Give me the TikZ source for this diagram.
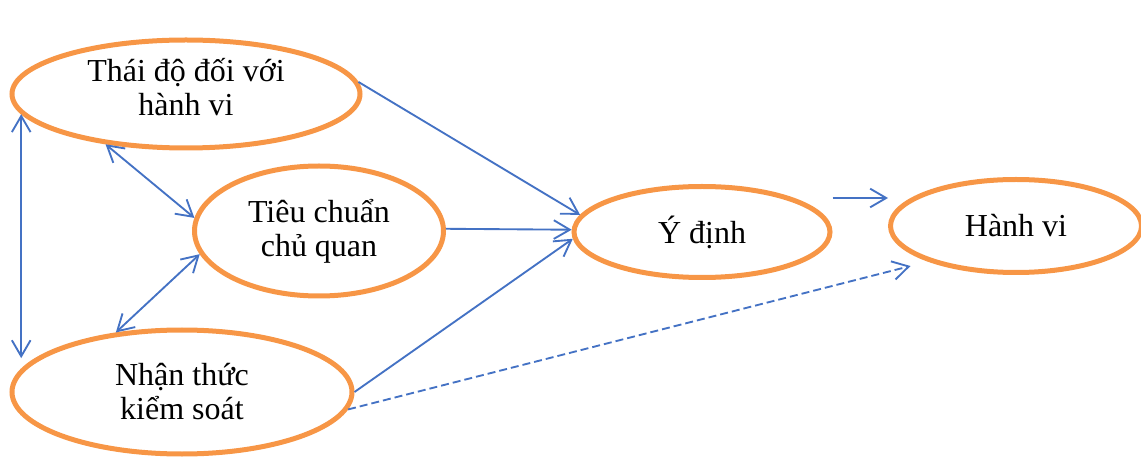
\documentclass[tikz,border=0pt]{standalone}
\usepackage{fontspec}
\setmainfont{Liberation Serif}
\usepackage{xcolor}
\usepackage{tikz}
\usetikzlibrary{arrows.meta,shapes.geometric}
\definecolor{randorange}{RGB}{247,150,70}
\definecolor{pfeilblau}{RGB}{68,114,196}

\begin{document}
\begin{tikzpicture}[x=0.75pt,y=-0.75pt,
  begriff/.style={ellipse,draw=randorange,line width=3.75pt,inner sep=0pt,align=center,
    font=\fontsize{24}{25.5}\selectfont},
  pfeil/.style={draw=pfeilblau,line width=1.4pt,>={Straight Barb[length=12pt,width=14pt]}}]
\useasboundingbox (0,0) rectangle (1141,459);
\node[begriff,minimum width=261pt,minimum height=81pt,text depth=11pt] (thaido) at (186,94) {Thái độ đối với\\hành vi};
\node[begriff,minimum width=186.75pt,minimum height=97.5pt] (tieuchuan) at (319,231) {Tiêu chuẩn\\chủ quan};
\node[begriff,minimum width=192pt,minimum height=68.25pt] (ydinh) at (702,232) {Ý định};
\node[begriff,minimum width=188.25pt,minimum height=69.75pt] (hanhvi) at (1016,226) {Hành vi};
\node[begriff,minimum width=255pt,minimum height=93pt] (nhanthuc) at (182,392) {Nhận thức\\kiểm soát};
\coordinate (ydinhaus) at ([yshift=25.5pt]ydinh.east);
\draw[pfeil,->] (thaido.4) -- (ydinh.172);
\draw[pfeil,->] (tieuchuan.1) -- (ydinh.179);
\draw[pfeil,->] (nhanthuc.east) -- (ydinh.183);
\draw[pfeil,->] (ydinhaus) -- (ydinhaus -| hanhvi.west);
\draw[pfeil,->,dash pattern=on 6pt off 3pt,shorten >=13.5pt] (nhanthuc.-6) -- (hanhvi.202);
\draw[pfeil,<->] (thaido.-148) -- (tieuchuan.174);
\draw[pfeil,<->] (tieuchuan.191) -- (nhanthuc.138);
\draw[pfeil,<->] (thaido.187) -- (thaido.187 |- nhanthuc.167);
\end{tikzpicture}
\end{document}
